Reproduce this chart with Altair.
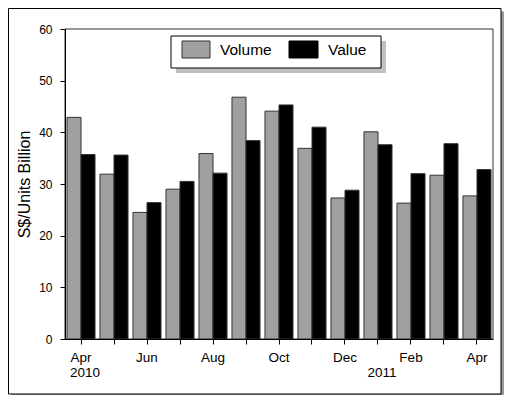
import json
import altair as alt
import pandas as pd

# ---- data ----
months = ["Apr", "May", "Jun", "Jul", "Aug", "Sep", "Oct", "Nov", "Dec", "Jan", "Feb", "Mar", "Apr"]
volume = [42.9, 31.9, 24.5, 29.0, 35.9, 46.8, 44.1, 36.9, 27.3, 40.1, 26.3, 31.7, 27.7]
value = [35.7, 35.6, 26.4, 30.5, 32.1, 38.4, 45.3, 41.0, 28.8, 37.6, 32.0, 37.8, 32.8]
series = ["Volume", "Value"]
colors = ["#a0a0a0", "#000000"]
year_labels = ["2010", "2011"]
year_idx = [0, 9]
y_ticks = [0, 10, 20, 30, 40, 50, 60]

rows = []
for i in range(len(months)):
    rows.append({"idx": i, "series": series[0], "val": volume[i]})
    rows.append({"idx": i, "series": series[1], "val": value[i]})
df = pd.DataFrame(rows)
years_df = pd.DataFrame({"idx": year_idx, "year": year_labels})

W, H = 428, 310
FONT = "Liberation Sans"
one = alt.Data(values=[{"k": 0}])

label_expr = f"datum.value % 2 == 0 ? {json.dumps(months)}[datum.value] : ''"

x_enc = alt.X(
    "idx:O",
    scale=alt.Scale(paddingInner=0.15, paddingOuter=0.06),
    axis=alt.Axis(
        title=None, labelExpr=label_expr, labelAngle=0, tickSize=5,
        labelPadding=6, labelFontSize=13.5, labelFont=FONT, labelColor="#000",
        domainColor="#000", tickColor="#000", zindex=1,
    ),
)
y_enc = alt.Y(
    "val:Q",
    scale=alt.Scale(domain=[0, 60], nice=False),
    axis=alt.Axis(
        values=y_ticks, title="S$/Units Billion", titleFont=FONT, titleFontSize=16,
        titleFontWeight="normal", titleColor="#000", titlePadding=6,
        labelFont=FONT, labelFontSize=12, labelColor="#000", labelPadding=8,
        tickSize=5, domainColor="#000", tickColor="#000", grid=False, zindex=1,
    ),
)

# outer frame with shadow
outer_shadow = alt.Chart(one).mark_rect(fill="#999999").encode(
    x=alt.value(-53.5), x2=alt.value(439), y=alt.value(-17.5), y2=alt.value(368)
)
outer = alt.Chart(one).mark_rect(fill="white", stroke="#000", strokeWidth=1).encode(
    x=alt.value(-56.5), x2=alt.value(436), y=alt.value(-20.5), y2=alt.value(365)
)
plot_box = alt.Chart(one).mark_rect(fill=None, stroke="#333", strokeWidth=1).encode(
    x=alt.value(0), x2=alt.value(W), y=alt.value(0), y2=alt.value(H)
)

bars = alt.Chart(df).mark_bar(stroke="#333", strokeWidth=1).encode(
    x=x_enc,
    xOffset=alt.XOffset("series:N", sort=series, scale=alt.Scale(paddingInner=0, paddingOuter=0)),
    y=y_enc,
    color=alt.Color("series:N", scale=alt.Scale(domain=series, range=colors), legend=None),
)

years = alt.Chart(years_df).mark_text(
    font=FONT, fontSize=13.5, baseline="middle", dx=4, color="#000"
).encode(x="idx:O", y=alt.value(344), text="year:N")

# legend (drawn manually to match the boxed, shadowed legend)
leg_shadow = alt.Chart(one).mark_rect(fill="#c0c0c0").encode(
    x=alt.value(111), x2=alt.value(321), y=alt.value(12), y2=alt.value(44)
)
leg_box = alt.Chart(one).mark_rect(fill="white", stroke="#000", strokeWidth=1).encode(
    x=alt.value(106), x2=alt.value(316), y=alt.value(7), y2=alt.value(39)
)
sw1 = alt.Chart(one).mark_rect(fill=colors[0], stroke="#333", strokeWidth=1).encode(
    x=alt.value(117), x2=alt.value(145), y=alt.value(12), y2=alt.value(29)
)
sw2 = alt.Chart(one).mark_rect(fill=colors[1], stroke="#000", strokeWidth=1).encode(
    x=alt.value(224), x2=alt.value(253), y=alt.value(12), y2=alt.value(29)
)
t1 = alt.Chart(one).mark_text(
    text=series[0], font=FONT, fontSize=15.5, align="left", baseline="middle", color="#000"
).encode(x=alt.value(155), y=alt.value(21))
t2 = alt.Chart(one).mark_text(
    text=series[1], font=FONT, fontSize=15.5, align="left", baseline="middle", color="#000"
).encode(x=alt.value(263), y=alt.value(21))

chart = alt.layer(
    outer_shadow, outer, plot_box, bars, years, leg_shadow, leg_box, sw1, sw2, t1, t2
).properties(
    width=W, height=H,
    autosize=alt.AutoSizeParams(type="none"),
    padding={"left": 57, "top": 21, "right": 12, "bottom": 56},
).configure_view(stroke=None).configure(background="white")

chart.save("out.html", embed_options={"renderer": "svg", "actions": False})
